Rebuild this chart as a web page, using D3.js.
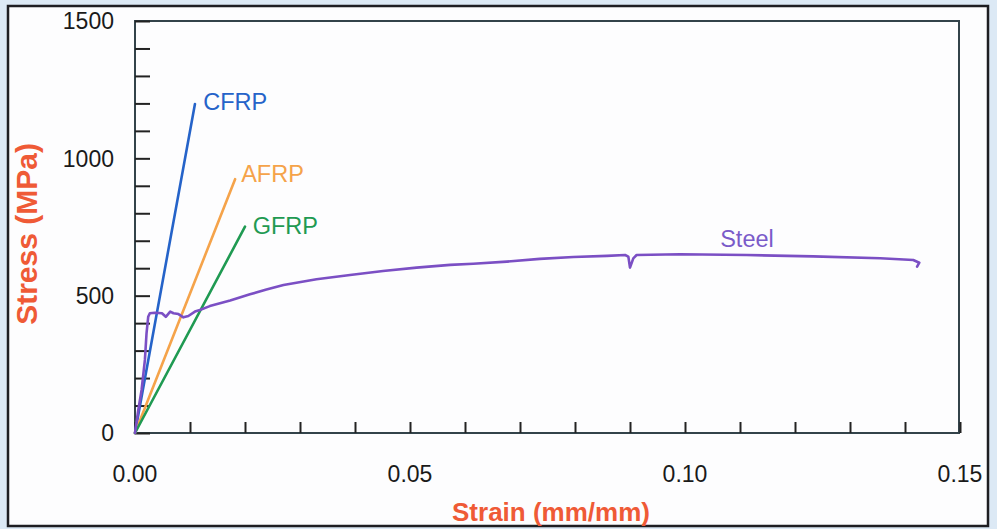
<!DOCTYPE html>
<html>
<head>
<meta charset="utf-8">
<script src="https://cdn.jsdelivr.net/npm/d3@7"></script>
<style>
html,body{margin:0;padding:0;background:#dce9f5;}
svg{display:block;}
text{font-family:"Liberation Sans",Arial,sans-serif;}
</style>
</head>
<body>
<svg id="chart" width="997" height="529"></svg>
<script>
// ---- data ----
const xTicks = [0, 0.05, 0.10, 0.15];
const xTickLabels = ["0.00", "0.05", "0.10", "0.15"];
const yTicks = [0, 500, 1000, 1500];
const yTickLabels = ["0", "500", "1000", "1500"];

const frpNames = ["CFRP", "AFRP", "GFRP"];
const frpUltStrain = [0.0109, 0.0182, 0.0200];
const frpUltStress = [1198, 924, 751];
const frpColors = ["#2563c9", "#f5a34a", "#1f9a52"];

const steelStrain = [0, 0.0006, 0.0012, 0.0018, 0.0021, 0.0024, 0.0027, 0.0036, 0.0049, 0.0056, 0.0064, 0.0070, 0.0079, 0.0088, 0.0097, 0.0109, 0.0118, 0.0136, 0.0173, 0.0209, 0.0239, 0.0270, 0.0330, 0.0391, 0.0451, 0.0512, 0.0573, 0.0615, 0.0676, 0.0736, 0.0797, 0.0858, 0.0891, 0.0897, 0.0900, 0.0906, 0.0912, 0.0991, 0.1112, 0.1233, 0.1355, 0.1415, 0.1426, 0.1422];
const steelStress = [0, 84, 157, 266, 364, 423, 436, 438, 436, 423, 442, 436, 433, 421, 426, 442, 448, 462, 482, 505, 522, 539, 560, 575, 590, 602, 612, 616, 624, 634, 641, 645, 648, 642, 602, 636, 648, 651, 648, 643, 636, 630, 620, 606];
const steelColor = "#7b4fc4";

// ---- layout ----
const svg = d3.select("#chart");
const X0 = 135, X1 = 959, Y0 = 433, Y1 = 21;
const x = d3.scaleLinear().domain([0, 0.15]).range([X0, 960]);
const y = d3.scaleLinear().domain([0, 1500]).range([Y0, Y1]);

// panel
svg.append("rect").attr("x", 8).attr("y", 6).attr("width", 980).attr("height", 520)
  .attr("fill", "#fdfdfe").attr("stroke", "#1e1e22").attr("stroke-width", 2.5);

// plot box
svg.append("rect").attr("x", X0).attr("y", Y1).attr("width", X1 - X0).attr("height", Y0 - Y1)
  .attr("fill", "none").attr("stroke", "#33434a").attr("stroke-width", 2);

// y ticks (inside)
const yAxis = d3.axisRight(y).tickValues(d3.range(0, 1501, 100)).tickSize(15).tickFormat("");
const gy = svg.append("g").attr("transform", `translate(${X0},0)`).call(yAxis);
gy.select(".domain").remove();
gy.selectAll("line").attr("stroke", "#222").attr("stroke-width", 2);

// x ticks (inside)
const xAxis = d3.axisTop(x).tickValues(d3.range(0, 16).map(i => i / 100)).tickSize(11).tickFormat("");
const gx = svg.append("g").attr("transform", `translate(0,${Y0})`).call(xAxis);
gx.select(".domain").remove();
gx.selectAll("line").attr("stroke", "#222").attr("stroke-width", 2);

// tick labels
svg.append("g").selectAll("text").data(yTicks).join("text")
  .attr("x", X0 - 21).attr("y", d => y(d)).attr("dy", "0.36em")
  .attr("text-anchor", "end").attr("font-size", 23).attr("fill", "#1a1a1a")
  .text((d, i) => yTickLabels[i]);
svg.append("g").selectAll("text").data(xTicks).join("text")
  .attr("x", d => x(d)).attr("y", 482)
  .attr("text-anchor", "middle").attr("font-size", 23).attr("fill", "#1a1a1a")
  .text((d, i) => xTickLabels[i]);

// axis titles
svg.append("text").attr("x", 551).attr("y", 521).attr("text-anchor", "middle")
  .attr("font-size", 26).attr("font-weight", "bold").attr("fill", "#ef5a36")
  .text("Strain (mm/mm)");
svg.append("text").attr("transform", "translate(37,234) rotate(-90)").attr("text-anchor", "middle")
  .attr("font-size", 30).attr("font-weight", "bold").attr("fill", "#ef5a36")
  .text("Stress (MPa)");

// lines
const line = d3.line().x(d => x(d[0])).y(d => y(d[1]));
frpNames.forEach((n, i) => {
  svg.append("path").datum([[0, 0], [frpUltStrain[i], frpUltStress[i]]])
    .attr("d", line).attr("fill", "none").attr("stroke", frpColors[i])
    .attr("stroke-width", 2.6).attr("stroke-linecap", "round");
});
const steel = steelStrain.map((s, i) => [s, steelStress[i]]);
svg.append("path").datum(steel).attr("d", line).attr("fill", "none")
  .attr("stroke", steelColor).attr("stroke-width", 2.6)
  .attr("stroke-linejoin", "round").attr("stroke-linecap", "round");

// series labels
const lblPos = [[0.0124, 1175], [0.0193, 915], [0.0214, 723]];
frpNames.forEach((n, i) => {
  svg.append("text").attr("x", x(lblPos[i][0])).attr("y", y(lblPos[i][1]))
    .attr("font-size", 23.5).attr("fill", frpColors[i]).text(n);
});
svg.append("text").attr("x", x(0.1064)).attr("y", y(678))
  .attr("font-size", 23.5).attr("fill", "#7a5bc9").text("Steel");
</script>
</body>
</html>
